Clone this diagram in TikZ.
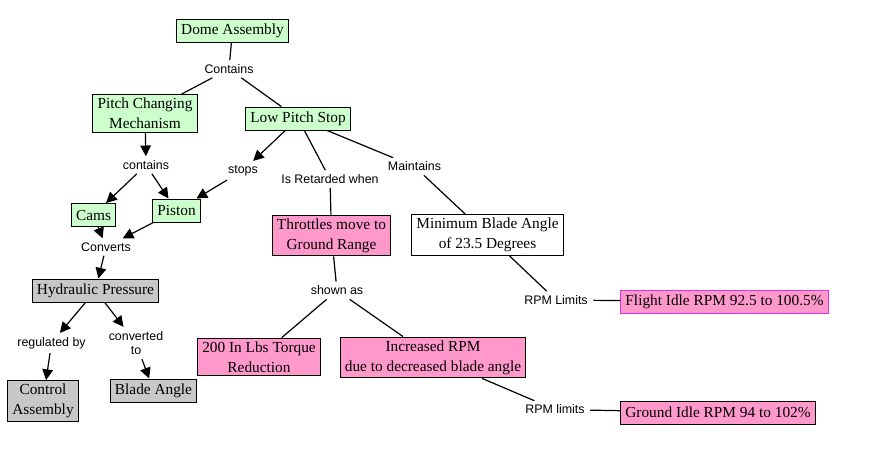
\documentclass[tikz,border=0pt]{standalone}
\usepackage{fontspec}
\setmainfont{Liberation Serif}
\newfontfamily\linkfont{Liberation Sans}
\usepackage{tikz}
\usetikzlibrary{arrows.meta,positioning}
\definecolor{conceptgreen}{RGB}{204,255,204}
\definecolor{conceptpink}{RGB}{255,153,204}
\definecolor{conceptgray}{RGB}{200,200,200}
\definecolor{flightborder}{RGB}{221,51,221}
\tikzset{
  concept/.style={draw=black,line width=0.75pt,inner xsep=3.4pt,inner ysep=2.6pt,
    minimum height=17.25pt,align=center,font=\fontsize{11.5}{15}\selectfont},
  greenbox/.style={concept,fill=conceptgreen},
  pinkbox/.style={concept,fill=conceptpink},
  graybox/.style={concept,fill=conceptgray},
  whitebox/.style={concept,fill=white},
  linkword/.style={inner xsep=4pt,inner ysep=3pt,align=center,
    font=\linkfont\fontsize{9.3}{11}\selectfont},
  link/.style={line width=0.9pt},
  arrowlink/.style={link,-{Triangle[length=8pt,width=8pt]}}
}

\begin{document}
\begin{tikzpicture}[x=0.75pt,y=-0.75pt]
\useasboundingbox (0,0) rectangle (872,464);
% draw concepts
\node[greenbox] (dome) at (232.5,30.5) {Dome Assembly};
\node[greenbox] (pcm) at (145,113.5) {Pitch Changing\\Mechanism};
\node[greenbox] (lps) at (298,118.5) {Low Pitch Stop};
\node[greenbox] (cams) at (93.5,215) {Cams};
\node[greenbox] (piston) at (176.5,210.5) {Piston};
\node[graybox] (hyd) at (95.5,290.5) {Hydraulic Pressure};
\node[graybox] (control) at (43,401) {Control\\Assembly};
\node[graybox] (blade) at (153.5,390.5) {Blade Angle};
\node[pinkbox] (throttles) at (331.5,235.5) {Throttles move to\\Ground Range};
\node[whitebox] (minblade) at (487.5,235) {Minimum Blade Angle\\of 23.5 Degrees};
\node[pinkbox] (torque) at (259,357) {200 In Lbs Torque\\Reduction};
\node[pinkbox] (increased) at (433,357.5) {Increased RPM\\due to decreased blade angle};
\node[pinkbox,draw=flightborder] (flight) at (724.5,301.5) {Flight Idle RPM 92.5 to 100.5\%};
\node[pinkbox] (ground) at (718,412.5) {Ground Idle RPM 94 to 102\%};
% draw linking words
\node[linkword] (wContains) at (229,69) {Contains};
\node[linkword] (wContainsB) at (146,165) {contains};
\node[linkword] (wStops) at (243,170.5) {stops};
\node[linkword] (wRetarded) at (330,179) {Is Retarded when};
\node[linkword] (wMaintains) at (414.5,166.5) {Maintains};
\node[linkword] (wConverts) at (106,247) {Converts};
\node[linkword] (wRegulated) at (51.5,343) {regulated by};
\node[linkword] (wConverted) at (136,343) {converted\\to};
\node[linkword] (wShown) at (337,290.5) {shown as};
\node[linkword] (wRpmA) at (556,300) {RPM Limits};
\node[linkword] (wRpmB) at (555,409.5) {RPM limits};
% draw plain links
\draw[link] (dome) -- (wContains);
\draw[link] (wContains) -- (pcm);
\draw[link] (wContains) -- (lps);
\draw[link] (lps) -- (wRetarded);
\draw[link] (wRetarded) -- (throttles);
\draw[link] (lps) -- (wMaintains);
\draw[link] (wMaintains) -- (minblade);
\draw[link] (throttles) -- (wShown);
\draw[link] (wShown) -- (torque);
\draw[link] (wShown) -- (increased);
\draw[link] (minblade) -- (wRpmA);
\draw[link] (wRpmA) -- (flight);
\draw[link] (increased) -- (wRpmB);
\draw[link] (wRpmB) -- (ground);
% draw arrow links
\draw[arrowlink] (pcm) -- (wContainsB);
\draw[arrowlink] (wContainsB) -- (cams);
\draw[arrowlink] (wContainsB) -- (piston);
\draw[arrowlink] (lps) -- (wStops);
\draw[arrowlink] (wStops) -- (piston);
\draw[arrowlink] (cams) -- (wConverts);
\draw[arrowlink] (piston) -- (wConverts);
\draw[arrowlink] (wConverts) -- (hyd);
\draw[arrowlink] (hyd) -- (wRegulated);
\draw[arrowlink] (wRegulated) -- (control);
\draw[arrowlink] (hyd) -- (wConverted);
\draw[arrowlink] (wConverted) -- (blade);
\end{tikzpicture}
\end{document}
